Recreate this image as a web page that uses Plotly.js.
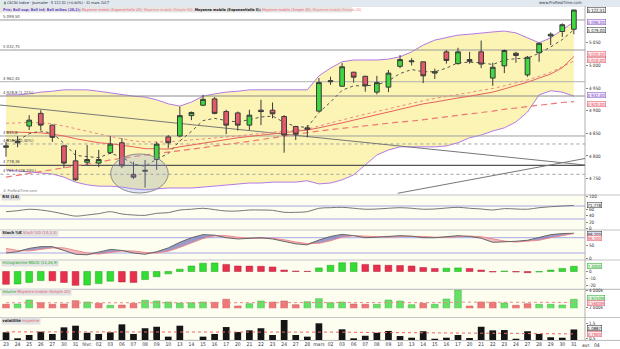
<!DOCTYPE html>
<html><head><meta charset="utf-8">
<script src="https://cdn.plot.ly/plotly-3.0.1.min.js"></script>
<style>html,body{margin:0;padding:0;background:#fff;}#chart{width:620px;height:349px;}</style>
</head><body><div id="chart"></div>
<script>
// ---------------- DATA ----------------
const days = ['23','24','25','26','27','30','31','févr.','02','03','06','07','08','09','10','13','14','15','16','17','20','21','22','23','24','27','28','mars','02','03','06','07','08','09','10','13','14','15','16','17','20','21','22','23','24','27','28','29','30','31'];
const futureDays = ['avr.','04'];
const openP  = [4819,4829,4866,4894,4868,4822,4789,4786,4784,4807,4829,4759,4766,4792,4842,4844,4889,4912,4926,4898,4895,4868,4901,4901,4887,4865,4862,4899,4964,4954,4985,4976,4941,4952,4998,5008,5008,4983,5030,5004,5013,5030,4972,4999,5027,4979,5028,5065,5075,5080];
const highP  = [4831,4844,4890,4901,4869,4824,4813,4824,4813,4844,4839,4787,4791,4831,4846,4909,4898,4935,4930,4902,4898,4902,4924,4918,4890,4866,4868,4972,4975,5005,4986,4977,4977,4990,5023,5016,5008,4993,5034,5039,5030,5055,5006,5035,5030,5021,5050,5073,5093,5123];
const lowP   = [4798,4819,4857,4857,4831,4773,4745,4780,4775,4804,4773,4749,4730,4769,4817,4841,4879,4910,4892,4848,4856,4857,4868,4883,4807,4835,4841,4898,4957,4953,4962,4942,4936,4941,4994,5000,4961,4970,5004,5002,5004,4994,4955,4983,5006,4975,5008,5045,5063,5069];
const closeP = [4822,4832,4879,4868,4841,4784,4747,4792,4792,4826,4778,4753,4768,4826,4829,4889,4896,4925,4894,4868,4868,4890,4898,4893,4846,4848,4859,4962,4966,4997,4974,4955,4962,4983,5013,5010,4977,4986,5011,5030,5009,5003,4996,5033,5022,5018,5049,5069,5090,5122.51];
const bollUp  = [4935,4935,4937,4941,4943,4946,4946,4946,4943,4939,4935,4932,4930,4924,4915,4910,4919,4932,4937,4941,4943,4946,4946,4946,4946,4946,4946,4977,4994,5008,5012,5012,5012,5014,5019,5030,5045,5056,5061,5067,5069,5072,5074,5076,5072,5061,5050,5061,5078,5096];
const bollLow = [4769,4767,4764,4762,4760,4753,4742,4736,4733,4733,4731,4727,4725,4727,4729,4729,4729,4731,4733,4736,4738,4740,4740,4742,4742,4742,4745,4738,4740,4747,4758,4780,4802,4813,4820,4820,4820,4820,4822,4829,4840,4846,4855,4862,4875,4897,4935,4944,4941,4932];
const ema5  = [4835,4834,4849,4855,4850,4828,4801,4798,4796,4806,4797,4782,4777,4793,4805,4833,4854,4878,4883,4878,4875,4880,4886,4888,4874,4865,4863,4896,4919,4945,4955,4955,4957,4966,4982,4991,4986,4986,4994,5006,5007,5006,5002,5012,5015,5016,5027,5041,5057,5079];
const ema20 = [4853,4852,4852,4851,4848,4844,4838,4833,4829,4827,4824,4820,4816,4815,4815,4820,4824,4829,4833,4836,4840,4843,4846,4848,4851,4854,4857,4862,4867,4873,4879,4885,4891,4897,4903,4909,4915,4919,4924,4928,4932,4937,4941,4948,4955,4963,4972,4981,4995,5020];
const sma20 = [4872,4873,4874,4873,4871,4866,4860,4854,4848,4843,4838,4833,4831,4831,4831,4833,4835,4838,4840,4842,4844,4847,4850,4853,4855,4857,4859,4866,4873,4880,4886,4892,4898,4905,4911,4917,4922,4927,4931,4936,4940,4945,4949,4955,4961,4968,4976,4985,4997,5010];
const sma50 = [4753,4757,4761,4765,4769,4773,4778,4782,4786,4791,4795,4798,4802,4805,4808,4812,4815,4818,4822,4825,4828,4832,4836,4840,4844,4848,4851,4855,4858,4861,4864,4867,4869,4872,4875,4877,4880,4883,4886,4889,4892,4895,4899,4903,4906,4910,4913,4915,4918,4920];
const trendDownX = [-0.52, 49.96], trendDownY = [4912.5, 4779.8];
const trendUpX = [33.8, 49.96], trendUpY = [4717.3, 4794.2];
const hLevels = [5100.5, 5034.1, 4964.0, 4932.4, 4844.0, 4826.3, 4779.2, 4759.3];
const hLabels = ['5 099,50','5 032,75','4 962,45','4 928,8 (1,22%)','4 845,8','4 830,5 (0,40%)','4 778,36','4 761,7 (28,20%)'];
const ellipseX = [9.03, 14.0], ellipseY = [4717.9, 4804.2];
const rsi = [52.5,55.5,60,57.7,52.5,45.4,39,42.3,46.4,52.5,45.4,42.3,41.2,47.5,49.5,57.7,60,63,58.7,54.6,54.6,57.7,57.7,56.7,50.6,50.6,52.5,63,64.8,66,63,60,60.8,63,64.8,63,60,60.8,63.8,66,63,60.8,57.7,62,60.8,60,64.8,67.8,70,71.778];
const stochK = [20,25,38,45,45,30,15,13,22,34,30,20,15,25,40,62,80,92,90,80,75,78,80,75,64,56,52,71,85,93,88,80,82,85,88,86,80,80,84,88,85,78,62,63,66,70,80,92,96,98.2];
const stochD = [38,30,28,33,40,40,30,20,16,22,28,28,22,20,27,42,58,77,87,88,82,78,78,78,72,63,57,58,68,82,88,86,84,82,85,86,85,82,81,84,86,84,75,67,63,66,70,80,89,96.1];
const macdHist = [-18,-17.5,-15.3,-12.7,-13,-15.3,-19.5,-19,-17,-13.6,-14.7,-15.3,-11.3,-7.3,-3.3,3.3,7.7,11.7,12,10,7.7,7.6,7.3,6.4,2,0.7,0.3,5.1,8.7,12.3,12.5,10,9.1,8.7,8.3,7.7,5.6,4.3,4.7,5.1,4.3,2,-0.7,0.7,-0.7,-1.6,-0.7,2,4.3,7.3];
const macdUp = [0,1,1,1,0,0,0,1,1,1,0,0,1,1,1,1,1,1,1,0,0,0,0,0,0,0,0,1,1,1,1,0,0,0,0,0,0,0,1,1,0,0,0,1,0,0,1,1,1,1];
const volume = [2347,2381,2844,2532,2347,2381,2763,2613,2462,2231,2266,2462,2809,2728,2613,2497,2532,2613,2578,2925,2150,2416,2728,2613,2728,2300,2647,2994,2532,2613,2381,2347,2347,2844,2728,2300,2462,2347,2959,4000,2150,2613,2578,2497,2231,2416,2347,2347,2266,2925];
const volUp = [0,1,1,0,0,0,0,1,0,1,0,0,1,1,1,1,1,1,0,0,0,1,1,0,0,0,1,1,1,1,0,0,1,1,1,1,0,1,1,1,0,0,0,1,0,0,1,1,1,1];
const volMA = [2520,2515,2520,2525,2520,2510,2515,2520,2515,2505,2500,2495,2505,2510,2515,2515,2520,2525,2530,2540,2530,2525,2530,2535,2540,2530,2535,2545,2545,2550,2545,2540,2535,2545,2550,2540,2535,2530,2540,2600,2590,2590,2590,2585,2570,2565,2560,2550,2545,2560];
const volat = [0.90,0.50,0.72,0.94,0.79,1.23,1.34,0.87,0.79,0.90,1.43,0.79,1.17,1.27,0.61,1.34,0.39,0.61,0.79,1.25,0.92,1.03,1.17,0.72,1.72,0.72,0.61,1.50,0.34,1.10,0.50,0.67,0.87,0.99,0.65,0.54,0.97,0.47,0.54,0.72,0.52,1.27,1.03,1.05,0.47,0.97,0.79,0.57,0.54,1.0887];
const volatMA = [0.93,0.93,0.92,0.92,0.92,0.93,0.94,0.94,0.93,0.93,0.94,0.94,0.95,0.96,0.95,0.96,0.94,0.93,0.93,0.94,0.93,0.92,0.92,0.91,0.93,0.92,0.91,0.93,0.91,0.91,0.90,0.89,0.88,0.88,0.87,0.86,0.86,0.85,0.84,0.83,0.83,0.84,0.84,0.83,0.82,0.82,0.81,0.80,0.79,0.79];

// ---------------- HELPERS ----------------
const PH = 340, PW = 585;
const py = y => (PH - y) / PH;
const pxf = x => x / PW;
const idx = days.map((d, i) => i);
const fr = (v, d) => { const s = v.toFixed(d).split('.'); const a = s[0].replace(/\B(?=(\d{3})+(?!\d))/g, ' '); return s[1] ? a + ',' + s[1] : a; };
const last = a => a[a.length - 1];
const FN = 'Liberation Sans Narrow, Arial Narrow, DejaVu Sans Condensed, Liberation Sans, sans-serif';
const PURPLE = '#b27ae6';
const MAINRANGE = [4713.5, 5131.4];

const traces = [];
// Bollinger
traces.push({type:'scatter', mode:'lines', x:idx, y:bollLow, line:{color:PURPLE, width:1}, hoverinfo:'skip'});
traces.push({type:'scatter', mode:'lines', x:idx, y:bollUp, line:{color:PURPLE, width:1}, fill:'tonexty', fillcolor:'#fcf4b4', hoverinfo:'skip'});
// horizontal levels
const hStyle = [['#9a9a9a','solid',1],['#9a9a9a','solid',1],['#b0b0b0','solid',1],['#8a8a8a','solid',1],['#a0a0a0','solid',1],['#a0a0a0','dot',1],['#555555','solid',1.3],['#a0a0a0','dot',1]];
hLevels.forEach((lv, k) => traces.push({type:'scatter', mode:'lines', x:[-1, 52], y:[lv, lv], line:{color:hStyle[k][0], dash:hStyle[k][1], width:hStyle[k][2]}, hoverinfo:'skip'}));
// trend lines
traces.push({type:'scatter', mode:'lines', x:trendDownX, y:trendDownY, line:{color:'#777', width:1}, hoverinfo:'skip'});
traces.push({type:'scatter', mode:'lines', x:trendUpX, y:trendUpY, line:{color:'#777', width:1}, hoverinfo:'skip'});
// MAs
traces.push({type:'scatter', mode:'lines', x:idx, y:sma50, line:{color:'#ee7777', width:1.2, dash:'6px,4px'}, hoverinfo:'skip'});
traces.push({type:'scatter', mode:'lines', x:idx, y:sma20, line:{color:'#ee8888', width:1, dash:'dot'}, hoverinfo:'skip'});
traces.push({type:'scatter', mode:'lines', x:idx, y:ema20, line:{color:'#e86060', width:1}, hoverinfo:'skip'});
traces.push({type:'scatter', mode:'lines', x:idx, y:ema5, line:{color:'#555', width:1, dash:'dot'}, hoverinfo:'skip'});
// candles (overlay axis so they sit above the band fill)
traces.push({type:'candlestick', x:idx, yaxis:'y7', open:openP, high:highP, low:lowP, close:closeP, whiskerwidth:0,
  increasing:{fillcolor:'#3fd93f', line:{color:'#3a3a3a', width:1}},
  decreasing:{fillcolor:'#e45a6a', line:{color:'#3a3a3a', width:1}}, hoverinfo:'skip'});
// RSI
traces.push({type:'scatter', mode:'lines', x:[-1,52], y:[70,70], yaxis:'y2', line:{color:'#a8a8e8', width:1}, hoverinfo:'skip'});
traces.push({type:'scatter', mode:'lines', x:[-1,52], y:[30,30], yaxis:'y2', line:{color:'#a8a8e8', width:1}, hoverinfo:'skip'});
traces.push({type:'scatter', mode:'lines', x:idx, y:rsi, yaxis:'y2', line:{color:'#777', width:1, shape:'spline'}, hoverinfo:'skip'});
// Stoch
const kdMax = stochK.map((k, i) => Math.max(k, stochD[i]));
const kdMin = stochK.map((k, i) => Math.min(k, stochD[i]));
traces.push({type:'scatter', mode:'lines', x:[-1,52], y:[80,80], yaxis:'y3', line:{color:'#a8a8e8', width:1}, hoverinfo:'skip'});
traces.push({type:'scatter', mode:'lines', x:[-1,52], y:[20,20], yaxis:'y3', line:{color:'#a8a8e8', width:1}, hoverinfo:'skip'});
traces.push({type:'scatter', mode:'lines', x:idx, y:stochD, yaxis:'y3', line:{width:0}, hoverinfo:'skip'});
traces.push({type:'scatter', mode:'lines', x:idx, y:kdMax, yaxis:'y3', line:{width:0}, fill:'tonexty', fillcolor:'rgba(120,120,190,0.75)', hoverinfo:'skip'});
traces.push({type:'scatter', mode:'lines', x:idx, y:stochD, yaxis:'y3', line:{width:0}, hoverinfo:'skip'});
traces.push({type:'scatter', mode:'lines', x:idx, y:kdMin, yaxis:'y3', line:{width:0}, fill:'tonexty', fillcolor:'rgba(240,170,180,0.8)', hoverinfo:'skip'});
traces.push({type:'scatter', mode:'lines', x:idx, y:stochD, yaxis:'y3', line:{color:'#f08a8a', width:1}, hoverinfo:'skip'});
traces.push({type:'scatter', mode:'lines', x:idx, y:stochK, yaxis:'y3', line:{color:'#666', width:1}, hoverinfo:'skip'});
// MACD histogram
traces.push({type:'bar', x:idx, y:macdHist, yaxis:'y4', width:0.58,
  marker:{color:macdUp.map(u => u ? '#33dd33' : '#e8304e'), line:{color:macdUp.map(u => u ? '#22a022' : '#b02038'), width:0.5}}, hoverinfo:'skip'});
// Volume
traces.push({type:'bar', x:idx, y:volume, yaxis:'y5', width:0.58,
  marker:{color:volUp.map(u => u ? '#66e066' : '#ee7878'), line:{color:volUp.map(u => u ? '#44b044' : '#c05858'), width:0.5}}, hoverinfo:'skip'});
traces.push({type:'scatter', mode:'lines', x:idx, y:volMA, yaxis:'y5', line:{color:'#ee8888', width:1, dash:'dot'}, hoverinfo:'skip'});
// Volatility
traces.push({type:'bar', x:idx, y:volat, yaxis:'y6', width:0.58, marker:{color:'#151515'}, hoverinfo:'skip'});
traces.push({type:'scatter', mode:'lines', x:idx, y:volatMA, yaxis:'y6', line:{color:'#ee6666', width:1, dash:'dot'}, hoverinfo:'skip'});

// ---------------- LAYOUT ----------------
const tf = {family:FN, size:5, color:'#333'};
const yBase = {side:'right', anchor:'x', showgrid:false, zeroline:false, showline:false, ticks:'outside', ticklen:2, tickcolor:'#888', tickfont:{family:FN, size:4.6, color:'#333'}, fixedrange:true};
const mainTicks = [4750,4800,4850,4900,4950,5000,5050];
const layout = {
  width:620, height:349, margin:{l:0, r:35, t:0, b:9},
  paper_bgcolor:'#ffffff', plot_bgcolor:'rgba(0,0,0,0)', showlegend:false, hovermode:false,
  boxgap:0.42, bargap:0.4,
  font:{family:FN, size:5, color:'#333'},
  xaxis:{domain:[0,1], range:[-0.518, 49.96], anchor:'y6', tickmode:'array', tickvals:idx, ticktext:days, tickfont:tf,
    ticks:'', showgrid:false, zeroline:false, showline:false, rangeslider:{visible:false}, fixedrange:true},
  yaxis:Object.assign({}, yBase, {domain:[py(195), py(6)], range:MAINRANGE, tickmode:'array', tickvals:mainTicks, ticktext:mainTicks.map(v => fr(v,0))}),
  yaxis7:{overlaying:'y', side:'right', anchor:'x', range:MAINRANGE, visible:false, showgrid:false, zeroline:false, fixedrange:true},
  yaxis2:Object.assign({}, yBase, {domain:[py(228.75), py(196.25)], range:[0,100], tickmode:'array', tickvals:[0,20,40,60,100], ticktext:['0','20','40','60','100']}),
  yaxis3:Object.assign({}, yBase, {domain:[py(258.1), py(232.6)], range:[0,100], tickmode:'array', tickvals:[0,50], ticktext:['0','50']}),
  yaxis4:Object.assign({}, yBase, {domain:[py(289), py(259.5)], range:[-24.6, 16.9], tickmode:'array', tickvals:[-20,-10,0], ticktext:['-20','-10','0']}),
  yaxis5:Object.assign({}, yBase, {domain:[py(308.3), py(289.5)], range:[1884, 4058], tickmode:'array', tickvals:[2000,4000], ticktext:['2 000k','4 000k']}),
  yaxis6:Object.assign({}, yBase, {domain:[0, py(318)], range:[0.387, 1.853], tickmode:'array', tickvals:[0.5,1.5], ticktext:['0,5','1,5']}),
  shapes:[], annotations:[]
};
const S = layout.shapes, A = layout.annotations;
const rect = (x0,x1,y0,y1,fill,layer) => S.push({type:'rect', xref:'paper', yref:'paper', x0:pxf(x0), x1:pxf(x1), y0:py(y1), y1:py(y0), fillcolor:fill, line:{width:0}, layer:layer||'below'});
const hline = (y,x0,x1,color,w) => S.push({type:'line', xref:'paper', yref:'paper', x0:pxf(x0), x1:pxf(x1), y0:py(y), y1:py(y), line:{color:color, width:w||1}, layer:'below'});
// panel backgrounds
rect(0,585,195.5,229.5,'#fdfdf0');
rect(0,585,230.5,259.3,'#fdfdf0');
rect(0,585,260.3,288.8,'#fdfdf0');
rect(0,585,289.8,317,'#fdfdf0');
rect(0,585,318,340,'#fdfdf0');
[195,230,260,289.3,317.5].forEach(y => hline(y,0,620,'#c4c4c4',1.2));
hline(340.4,0,620,'#b8b8b8',1);
S.push({type:'line', xref:'paper', yref:'paper', x0:1, x1:1, y0:0, y1:py(6), line:{color:'#b0b0b0', width:1}, layer:'below'});
// title bar
rect(0,620,0,6,'#e1e8ef','above');
hline(6,0,620,'#b8c0c8',0.8);
rect(0,352,6.5,12.5,'#e6e6e6','above');
// ellipse
S.push({type:'circle', xref:'x', yref:'y', x0:ellipseX[0], x1:ellipseX[1], y0:ellipseY[0], y1:ellipseY[1], fillcolor:'rgba(140,165,225,0.28)', line:{color:'#8a8a8a', width:1}, layer:'above'});

// texts
const ann = (x,y,text,opt) => A.push(Object.assign({xref:'paper', yref:'paper', x:pxf(x), y:py(y), text:text, showarrow:false, xanchor:'left', yanchor:'middle', font:{family:FN, size:4.1, color:'#222'}}, opt||{}));
ann(2,3,'<span style="color:#2a8a2a">▮</span> CAC40 Indice · Journalier · 5 122,51 (+0,60%) · 31 mars 2017', {font:{family:FN, size:3.7, color:'#223'}});
ann(584,3,'www.ProRealTime.com', {xanchor:'right', font:{family:FN, size:4.2, color:'#334'}});
ann(1,9.5,'<b><span style="color:#6040c0">Prix; Boll sup; Boll inf; Boll milieu (20,2);</span></b> <span style="color:#ee5566">Moyenne mobile (Exponentielle 20);</span> <span style="color:#ee7777">Moyenne mobile (Simple 50);</span> <b><span style="color:#111">Moyenne mobile (Exponentielle 5);</span></b> <span style="color:#ee5566">Moyenne mobile (Simple 20);</span> <span style="color:#ee7777">Moyenne mobile (Simple 20)</span>', {font:{family:FN, size:3.75}});
ann(1,190.5,'© ProRealTime.com', {font:{family:FN, size:3.8, color:'#777'}});
const box = {bgcolor:'#e2e2e2', borderpad:0.3};
ann(1,197.3,'<b>RSI (14)</b>', box);
ann(1,233,'<b>Stoch %K</b> <span style="color:#e06070">Stoch %D (14,3,3)</span>', box);
ann(1,263,'<span style="color:#22aa22">Histogramme MACD (12,26,9)</span>', box);
ann(1,292,'<span style="color:#22aa22">Volume</span> <span style="color:#e06070">Moyenne mobile (Simple 20)</span>', box);
ann(1,320.5,'<b>volatilité</b> <span style="color:#e06070">moyenne</span>', box);
// level labels
hLevels.forEach((lv, k) => A.push({xref:'paper', yref:'y', x:0.002, y:lv, text:hLabels[k], showarrow:false, xanchor:'left', yanchor:'bottom', yshift:-1, font:{family:FN, size:4.2, color:'#444'}}));
// right value tags
const tag = (yref, v, text, col, bg, ys) => A.push({xref:'paper', yref:yref, x:pxf(587), y:v, yshift:ys||0, text:text, showarrow:false, xanchor:'left', yanchor:'middle', bgcolor:bg, bordercolor:col, borderwidth:0.5, borderpad:0, font:{family:FN, size:4.3, color:col}});
tag('y', last(closeP), fr(last(closeP),2), '#222', '#f4f4f4');
tag('y', last(bollUp), fr(last(bollUp),2), '#8050c0', '#efe6fa');
tag('y', last(ema5), fr(last(ema5),2), '#222', '#ffffff');
tag('y', last(ema20), fr(last(ema20),2), '#e05060', '#fde8ea', 2);
tag('y', last(sma20), fr(last(sma20),2), '#e05060', '#fde8ea', 0.5);
tag('y', last(bollLow), fr(last(bollLow),2), '#8050c0', '#efe6fa', 1);
tag('y', last(sma50), fr(last(sma50),2), '#e05060', '#fde8ea', -2);
tag('y2', last(rsi), fr(last(rsi),3), '#333', '#eeeeee');
tag('y3', last(stochK), fr(last(stochK),3), '#333', '#e4e4f4', -0.8);
tag('y3', last(stochD), fr(last(stochD),3), '#e05060', '#fde8ea', -4);
tag('y4', last(macdHist), fr(last(macdHist),4), '#22aa22', '#e4f6e4');
tag('y5', last(volume), fr(last(volume)/1000,4)+'M', '#22aa22', '#e4f6e4', 1.5);
tag('y5', last(volMA), fr(last(volMA)/1000,4)+'M', '#e05060', '#fde8ea', -0.3);
tag('y6', last(volat), fr(last(volat),4), '#222', '#f4f4f4', 1);
tag('y6', last(volatMA), fr(last(volatMA),4), '#e05060', '#fde8ea', 0.3);
// future x labels
futureDays.forEach((d, k) => A.push({xref:'paper', yref:'paper', x:pxf(6 + 11.59 * (50 + k)), y:py(344.5), text:d, showarrow:false, xanchor:'center', yanchor:'middle', font:tf}));

Plotly.newPlot('chart', traces, layout, {displayModeBar:false, staticPlot:true});
</script>
</body></html>
